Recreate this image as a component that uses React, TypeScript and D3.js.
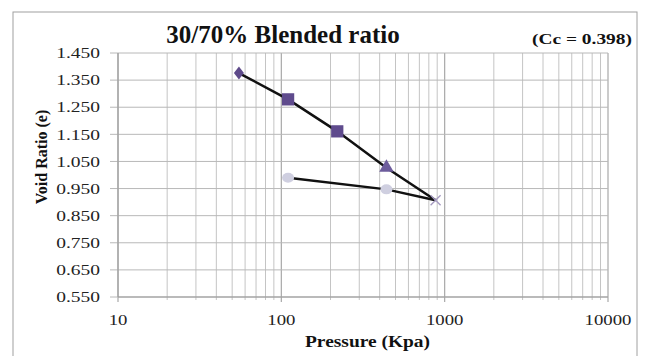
import * as d3 from 'd3';

const loadP = [55, 110, 220, 440, 880];
const loadE = [1.376, 1.279, 1.161, 1.027, 0.907];
const unloadP = [110, 440, 880];
const unloadE = [0.99, 0.947, 0.907];
const yTicks = [0.55, 0.65, 0.75, 0.85, 0.95, 1.05, 1.15, 1.25, 1.35, 1.45];
const xMajor = [10, 100, 1000, 10000];

const W = 648;
const H = 356;
const serif = '"Liberation Serif", "Times New Roman", serif';

export default function App() {
  const x = d3.scaleLog().domain([10, 10000]).range([118, 608]);
  const y = d3.scaleLinear().domain([0.55, 1.45]).range([297, 53]);

  const xMinor: number[] = [];
  for (const d of [10, 100, 1000]) {
    for (let k = 2; k <= 9; k++) xMinor.push(d * k);
  }

  const loadPath = d3.line<[number, number]>()(
    loadP.map((p, i) => [x(p), y(loadE[i])])
  );
  const unloadPath = d3.line<[number, number]>()(
    unloadP.map((p, i) => [x(p), y(unloadE[i])])
  );

  const diamond = d3.symbol(d3.symbolDiamond, 60)();
  const square = d3.symbol(d3.symbolSquare, 150)();
  const triangle = d3.symbol(d3.symbolTriangle, 90)();

  return (
    <svg
      width={W}
      height={H}
      style={{ position: 'absolute', left: 0, top: 0, background: '#fff' }}
    >
      <rect x={13} y={12} width={624} height={360} fill='#fff' stroke='#a0a0a0' strokeWidth={1} />

      {/* grid */}
      {xMinor.map((v) => (
        <line key={'xm' + v} x1={x(v)} x2={x(v)} y1={y(1.45)} y2={y(0.55) + 3} stroke='#c4c4c4' strokeWidth={1} />
      ))}
      {xMajor.map((v) => (
        <line key={'xM' + v} x1={x(v)} x2={x(v)} y1={y(1.45)} y2={y(0.55) + 5} stroke='#a8a8a8' strokeWidth={1.2} />
      ))}
      {yTicks.map((v) => (
        <line key={'y' + v} x1={x(10) - 8} x2={x(10000)} y1={y(v)} y2={y(v)} stroke='#b8b8b8' strokeWidth={1} />
      ))}
      <line x1={x(10)} x2={x(10)} y1={y(1.45)} y2={y(0.55)} stroke='#999' strokeWidth={1} />
      <line x1={x(10)} x2={x(10000)} y1={y(0.55)} y2={y(0.55)} stroke='#999' strokeWidth={1} />

      {/* tick labels */}
      {yTicks.map((v) => (
        <text
          key={'yl' + v}
          transform={`translate(100,${y(v)}) scale(1.3,1)`}
          dy='0.35em'
          textAnchor='end'
          fontFamily={serif}
          fontSize={15}
          fill='#222'
        >
          {d3.format('.3f')(v)}
        </text>
      ))}
      {xMajor.map((v) => (
        <text
          key={'xl' + v}
          transform={`translate(${x(v)},325) scale(1.25,1)`}
          textAnchor='middle'
          fontFamily={serif}
          fontSize={15}
          fill='#222'
        >
          {v}
        </text>
      ))}

      {/* data lines */}
      <path d={loadPath ?? ''} fill='none' stroke='#111' strokeWidth={2.5} />
      <path d={unloadPath ?? ''} fill='none' stroke='#111' strokeWidth={2.5} />

      {/* markers */}
      <path d={diamond} transform={`translate(${x(loadP[0])},${y(loadE[0])}) scale(1.2,0.9)`} fill='#5e4a8a' />
      {[1, 2].map((i) => (
        <path key={'sq' + i} d={square} transform={`translate(${x(loadP[i])},${y(loadE[i])})`} fill='#5f4b8d' />
      ))}
      <path d={triangle} transform={`translate(${x(loadP[3])},${y(loadE[3])})`} fill='#6d5c9c' />
      {unloadP.slice(0, 2).map((p, i) => (
        <ellipse key={'c' + i} cx={x(p)} cy={y(unloadE[i])} rx={6} ry={5} fill='#cfcfe0' />
      ))}
      <g transform={`translate(${x(loadP[4])},${y(loadE[4])})`} stroke='#a59ac0' strokeWidth={1.3}>
        <line x1={-5} y1={-5} x2={5} y2={5} />
        <line x1={-5} y1={5} x2={5} y2={-5} />
      </g>

      {/* titles */}
      <text x={283} y={43} textAnchor='middle' fontFamily={serif} fontSize={25} fontWeight='bold' fill='#111'>
        30/70% Blended ratio
      </text>
      <text
        x={532}
        y={44}
        textLength={100}
        lengthAdjust='spacingAndGlyphs'
        fontFamily={serif}
        fontSize={15}
        fontWeight='bold'
        fill='#111'
      >
        (Cc = 0.398)
      </text>
      <text
        x={305}
        y={347}
        textLength={125}
        lengthAdjust='spacingAndGlyphs'
        fontFamily={serif}
        fontSize={16}
        fontWeight='bold'
        fill='#111'
      >
        Pressure (Kpa)
      </text>
      <text
        transform={`translate(47,157) rotate(-90)`}
        textAnchor='middle'
        fontFamily={serif}
        fontSize={16}
        fontWeight='bold'
        fill='#111'
      >
        Void Ratio (e)
      </text>
    </svg>
  );
}
